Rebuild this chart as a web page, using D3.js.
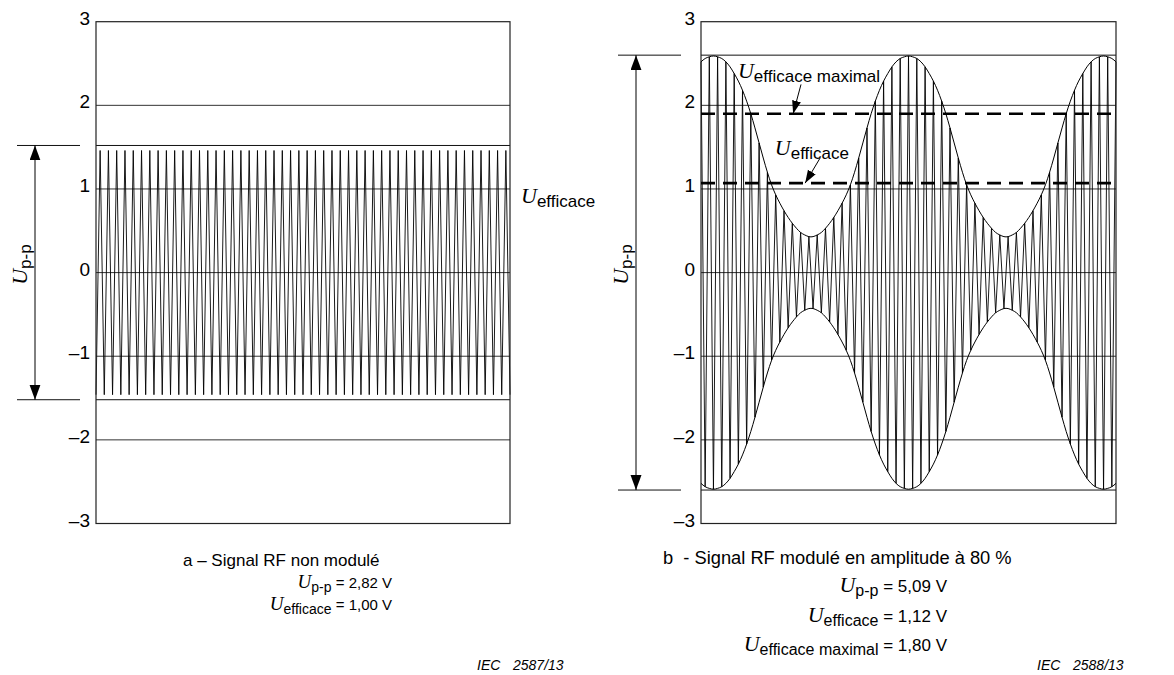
<!DOCTYPE html>
<html>
<head>
<meta charset="utf-8">
<script src="https://cdn.jsdelivr.net/npm/d3@7"></script>
<style>
  body { margin: 0; background: #fff; }
  svg { font-family: "Liberation Sans", Arial, sans-serif; }
  .u { font-family: "Liberation Serif", "Times New Roman", serif; font-style: italic; }
</style>
</head>
<body>
<svg width="1174" height="675"></svg>
<script>
    // y axis ticks, shared by both panels
    var yTicks = [3, 2, 1, 0, -1, -2, -3];
    var tickLabels = ["3", "2", "1", "0", "\u20131", "\u20132", "\u20133"];

    // carrier peaks, one per half cycle (a: non modulé)
    var peaksA = [
        -1.46, 1.46, -1.46, 1.46, -1.46, 1.46, -1.46, 1.46, -1.46, 1.46,
        -1.46, 1.46, -1.46, 1.46, -1.46, 1.46, -1.46, 1.46, -1.46, 1.46,
        -1.46, 1.46, -1.46, 1.46, -1.46, 1.46, -1.46, 1.46, -1.46, 1.46,
        -1.46, 1.46, -1.46, 1.46, -1.46, 1.46, -1.46, 1.46, -1.46, 1.46,
        -1.46, 1.46, -1.46, 1.46, -1.46, 1.46, -1.46, 1.46, -1.46, 1.46,
        -1.46, 1.46, -1.46, 1.46, -1.46, 1.46, -1.46, 1.46, -1.46, 1.46,
        -1.46, 1.46, -1.46, 1.46, -1.46, 1.46, -1.46, 1.46, -1.46, 1.46,
        -1.46, 1.46, -1.46, 1.46, -1.46, 1.46, -1.46, 1.46, -1.46, 1.46,
        -1.46, 1.46, -1.46, 1.46, -1.46, 1.46, -1.46, 1.46, -1.46, 1.46,
        -1.46, 1.46, -1.46, 1.46, -1.46, 1.46, -1.46, 1.46, -1.46, 1.46,
        -1.46
    ];

    // carrier peaks, one per half cycle (b: modulé 80 %)
    var peaksB = [
        2.52, -2.56, 2.58, -2.59, 2.58, -2.56, 2.52, -2.46, 2.38, -2.29,
        2.18, -2.05, 1.90, -1.73, 1.55, -1.37, 1.20, -1.05, 0.93, -0.83,
        0.74, -0.66, 0.59, -0.53, 0.48, -0.45, 0.43, -0.43, 0.45, -0.48,
        0.53, -0.59, 0.66, -0.74, 0.83, -0.93, 1.05, -1.20, 1.37, -1.55,
        1.73, -1.90, 2.05, -2.18, 2.29, -2.38, 2.46, -2.52, 2.56, -2.58,
        2.59, -2.58, 2.56, -2.52, 2.46, -2.38, 2.29, -2.18, 2.05, -1.90,
        1.73, -1.55, 1.37, -1.20, 1.05, -0.93, 0.83, -0.74, 0.66, -0.59,
        0.53, -0.48, 0.45, -0.43, 0.43, -0.45, 0.48, -0.53, 0.59, -0.66,
        0.74, -0.83, 0.93, -1.05, 1.20, -1.37, 1.55, -1.73, 1.90, -2.05,
        2.18, -2.29, 2.38, -2.46, 2.52, -2.56, 2.58, -2.59, 2.58, -2.56,
        2.52
    ];

    var refA = [1.52, -1.52];     // U p-p limits, panel a
    var refB = [2.6, -2.6];       // U p-p limits, panel b
    var rmsB = [1.9, 1.07];       // U efficace maximal, U efficace (dashed)

    var svg = d3.select("svg");

    var defs = svg.append("defs");
    defs.append("marker")
        .attr("id", "big")
        .attr("markerUnits", "userSpaceOnUse")
        .attr("markerWidth", 16).attr("markerHeight", 12)
        .attr("refX", 15).attr("refY", 5.5)
        .attr("orient", "auto-start-reverse")
        .append("path").attr("d", "M0,0 L15,5.5 L0,11 z").attr("fill", "#000");
    defs.append("marker")
        .attr("id", "small")
        .attr("markerUnits", "userSpaceOnUse")
        .attr("markerWidth", 14).attr("markerHeight", 10)
        .attr("refX", 13).attr("refY", 4.5)
        .attr("orient", "auto")
        .append("path").attr("d", "M0,0 L13,4.5 L0,9 z").attr("fill", "#000");

    // text with italic serif U and sans subscript
    function label(g, x, y, anchor, sym, sub, rest, size, subSize, rotate) {
        var t = g.append("text")
            .attr("x", x).attr("y", y)
            .attr("text-anchor", anchor)
            .attr("font-size", size);
        if (rotate) {
            t.attr("transform", "rotate(-90," + x + "," + y + ")");
        }
        t.append("tspan").attr("class", "u").attr("font-size", Math.round(size * 1.28)).text(sym);
        t.append("tspan").attr("font-size", subSize).attr("dy", 4).text(sub);
        if (rest) {
            t.append("tspan").attr("dy", -4).text(rest);
        }
        return t;
    }

    function panel(x0, x1, peaks, refs, arrowX) {
        var top = 21.7, bottom = 523.5;
        var x = d3.scaleLinear().domain([0, peaks.length - 1]).range([x0, x1]);
        var y = d3.scaleLinear().domain([-3, 3]).range([bottom, top]);
        var g = svg.append("g");

        g.selectAll(".grid").data(yTicks.slice(1, -1)).enter()
            .append("line")
            .attr("x1", x0).attr("x2", x1)
            .attr("y1", function(d) { return y(d); })
            .attr("y2", function(d) { return y(d); })
            .attr("stroke", "#333").attr("stroke-width", 1);

        g.selectAll(".tick").data(yTicks).enter()
            .append("text")
            .attr("x", x0 - 6)
            .attr("y", function(d) { return y(d) + 3; })
            .attr("text-anchor", "end")
            .attr("font-size", 19)
            .text(function(d, i) { return tickLabels[i]; });

        // limit lines, inside the frame and beside the arrow
        g.selectAll(".ref").data(refs).enter()
            .append("line")
            .attr("x1", x0).attr("x2", x1)
            .attr("y1", function(d) { return y(d); })
            .attr("y2", function(d) { return y(d); })
            .attr("stroke", "#111").attr("stroke-width", 1);
        g.selectAll(".refout").data(refs).enter()
            .append("line")
            .attr("x1", arrowX - 18).attr("x2", arrowX + 45)
            .attr("y1", function(d) { return y(d); })
            .attr("y2", function(d) { return y(d); })
            .attr("stroke", "#111").attr("stroke-width", 1);

        g.append("line")
            .attr("x1", arrowX).attr("x2", arrowX)
            .attr("y1", y(refs[0])).attr("y2", y(refs[1]))
            .attr("stroke", "#000").attr("stroke-width", 1)
            .attr("marker-start", "url(#big)")
            .attr("marker-end", "url(#big)");

        label(g, arrowX - 8, (y(refs[0]) + y(refs[1])) / 2 - 8, "middle", "U", "p-p", null, 17, 17, true);

        var carrier = d3.line()
            .x(function(d, i) { return x(i); })
            .y(function(d) { return y(d); });
        g.append("path")
            .datum(peaks)
            .attr("d", carrier)
            .attr("fill", "none")
            .attr("stroke", "#000")
            .attr("stroke-width", 0.9);

        g.append("rect")
            .attr("x", x0).attr("y", top)
            .attr("width", x1 - x0).attr("height", bottom - top)
            .attr("fill", "none")
            .attr("stroke", "#222").attr("stroke-width", 1.2);

        return { g: g, x: x, y: y };
    }

    // a - Signal RF non modulé
    var a = panel(96, 510, peaksA, refA, 35);
    label(a.g, a.x.range()[1] + 11, a.y(0.83), "start", "U", "efficace", null, 17, 17);

    // b - Signal RF modulé en amplitude à 80 %
    var b = panel(701, 1116, peaksB, refB, 636);

    var envelope = d3.line()
        .curve(d3.curveNatural)
        .x(function(d, i) { return b.x(i); })
        .y(function(d) { return b.y(d); });
    b.g.append("path")
        .datum(peaksB.map(function(v) { return Math.abs(v); }))
        .attr("d", envelope)
        .attr("fill", "none").attr("stroke", "#000").attr("stroke-width", 1);
    b.g.append("path")
        .datum(peaksB.map(function(v) { return -Math.abs(v); }))
        .attr("d", envelope)
        .attr("fill", "none").attr("stroke", "#000").attr("stroke-width", 1);

    b.g.selectAll(".rms").data(rmsB).enter()
        .append("line")
        .attr("x1", 701).attr("x2", 1116)
        .attr("y1", function(d) { return b.y(d); })
        .attr("y2", function(d) { return b.y(d); })
        .attr("stroke", "#000").attr("stroke-width", 2.6)
        .attr("stroke-dasharray", "14,8");

    var notes = [
        { lx: 8.9, ly: 2.33, sub: "efficace maximal", ax: 24.1, ay: 2.25, tx: 22.2, ty: rmsB[0] },
        { lx: 17.8, ly: 1.41, sub: "efficace", ax: 28.7, ay: 1.37, tx: 25.1, ty: rmsB[1] }
    ];
    notes.forEach(function(n) {
        var bg = b.g.append("g");
        label(bg, b.x(n.lx), b.y(n.ly), "start", "U", n.sub, null, 17, 17);
        bg.append("line")
            .attr("x1", b.x(n.ax)).attr("y1", b.y(n.ay))
            .attr("x2", b.x(n.tx)).attr("y2", b.y(n.ty))
            .attr("stroke", "#000").attr("stroke-width", 1)
            .attr("marker-end", "url(#small)");
    });

    // captions
    svg.append("text").attr("x", 183).attr("y", 566).attr("font-size", 17)
        .text("a \u2013 Signal RF non modulé");
    label(svg, 392, 588, "end", "U", "p-p", " = 2,82 V", 15, 14);
    label(svg, 392, 610, "end", "U", "efficace", " = 1,00 V", 15, 14);

    svg.append("text").attr("x", 663).attr("y", 564).attr("font-size", 18.3)
        .text("b \u00a0- Signal RF modulé en amplitude à 80 %");
    label(svg, 947, 592, "end", "U", "p-p", " = 5,09 V", 17, 16);
    label(svg, 947, 622, "end", "U", "efficace", " = 1,12 V", 17, 16);
    label(svg, 947, 651, "end", "U", "efficace maximal", " = 1,80 V", 17, 16);

    svg.append("text").attr("x", 477).attr("y", 670).attr("font-size", 14)
        .attr("font-style", "italic").text("IEC");
    svg.append("text").attr("x", 513).attr("y", 670).attr("font-size", 14)
        .attr("font-style", "italic").text("2587/13");
    svg.append("text").attr("x", 1037).attr("y", 670).attr("font-size", 14)
        .attr("font-style", "italic").text("IEC");
    svg.append("text").attr("x", 1073).attr("y", 670).attr("font-size", 14)
        .attr("font-style", "italic").text("2588/13");
</script>
</body>
</html>
